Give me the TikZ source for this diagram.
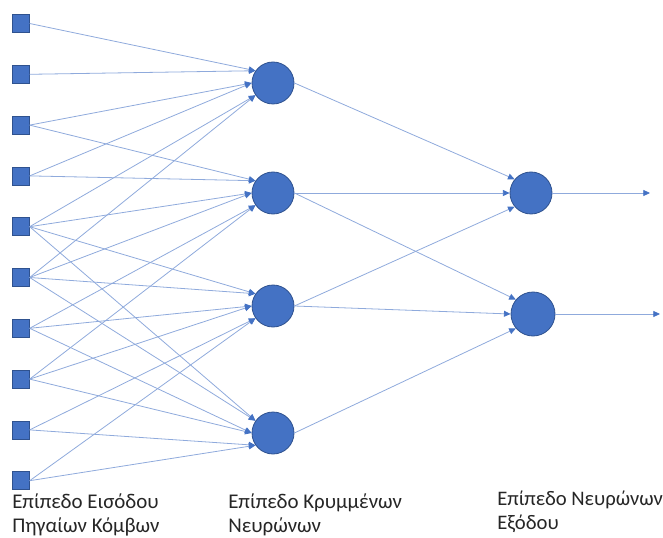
\documentclass[tikz,border=0pt]{standalone}
\usepackage{fontspec}
\setmainfont{Carlito}
\usetikzlibrary{arrows.meta}
\definecolor{nodeblue}{HTML}{4472C4}
\definecolor{edgeblue}{HTML}{2F528F}
\definecolor{linkblue}{HTML}{8FAADC}
\begin{document}
\begin{tikzpicture}[x=0.75pt,y=-0.75pt,
  inp/.style={rectangle, fill=nodeblue, draw=edgeblue, line width=0.5pt, minimum width=12.5pt, minimum height=13.5pt, inner sep=0pt},
  neu/.style={circle, fill=nodeblue, draw=edgeblue, line width=0.6pt, minimum size=31.5pt, inner sep=0pt},
  link/.style={draw=linkblue, line width=0.6pt, -{Triangle[length=5pt,width=4.5pt,color=nodeblue]}},
  lbl/.style={anchor=base west, inner sep=0pt, font=\fontsize{15.7}{18.75}\selectfont, text=black!85}]
\useasboundingbox (0,0) rectangle (663,538);
% input squares
\foreach \i in {1,...,10}
  \node[inp] (i\i) at (21, {23.5 + 50.8*(\i-1)}) {};
% hidden neurons
\node[neu] (h1) at (273,83) {};
\node[neu] (h2) at (273,193) {};
\node[neu] (h3) at (273,306) {};
\node[neu] (h4) at (273,433) {};
% output neurons
\node[neu] (o1) at (531,193) {};
\node[neu, minimum size=33pt] (o2) at (533,314) {};
\coordinate (e1) at (650,193);
\coordinate (e2) at (660,314);
% input -> hidden
\foreach \i/\a in {1/145,2/145,3/180,4/180,5/215,6/215}
  \draw[link] (i\i.east) -- (h1.\a);
\foreach \i/\a in {3/145,4/145,5/180,6/180,7/215,8/215}
  \draw[link] (i\i.east) -- (h2.\a);
\foreach \i/\a in {5/145,6/145,7/180,8/180,9/215,10/215}
  \draw[link] (i\i.east) -- (h3.\a);
\foreach \i/\a in {5/145,6/145,7/180,8/180,9/215,10/215}
  \draw[link] (i\i.east) -- (h4.\a);
% hidden -> output
\draw[link] (h1.east) -- (o1.140);
\draw[link] (h2.east) -- (o1.west);
\draw[link] (h2.east) -- (o2.140);
\draw[link] (h3.east) -- (o1.220);
\draw[link] (h3.east) -- (o2.west);
\draw[link] (h4.east) -- (o2.220);
% outputs
\draw[link] (o1.east) -- (e1);
\draw[link] (o2.east) -- (e2);
% labels
\node[lbl] (l1a) at (12,508) {Επίπεδο Εισόδου};
\node[lbl] (l1b) at (12,532) {Πηγαίων Κόμβων};
\node[lbl] (l2a) at (228,508) {Επίπεδο Κρυμμένων};
\node[lbl] (l2b) at (228,532) {Νευρώνων};
\node[lbl, font=\fontsize{15.5}{18.75}\selectfont] (l3a) at (497,505) {Επίπεδο Νευρώνων};
\node[lbl, font=\fontsize{15.5}{18.75}\selectfont] (l3b) at (497,529) {Εξόδου};
\end{tikzpicture}
\end{document}
